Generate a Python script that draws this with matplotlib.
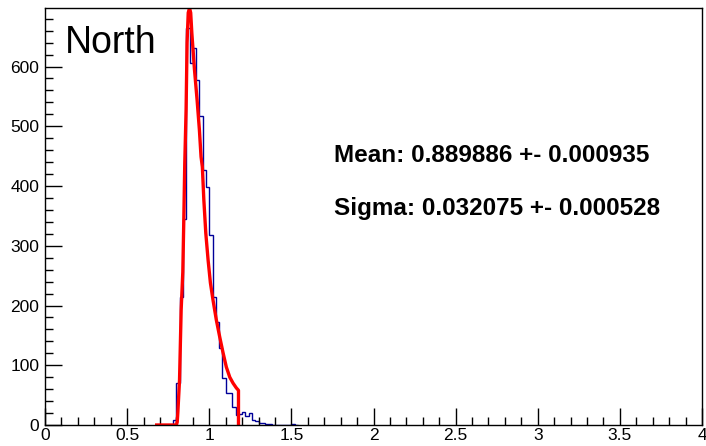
import numpy as np
import matplotlib
matplotlib.use("Agg")
import matplotlib.pyplot as plt
from matplotlib.ticker import MultipleLocator

# histogram: bins of width 0.02 starting at 0.76
bin_start = 0.76
bin_width = 0.02
counts = [0, 8, 70, 215, 345, 665, 606, 631, 578, 517, 427, 399, 318,
          214, 172, 129, 79, 54, 54, 30, 17, 18, 22, 15, 20, 8, 7, 4, 4,
          2, 2, 0, 0, 0, 0, 0, 0, 1, 0]

# fitted curve as drawn
fit_x = [0.68, 0.80, 0.805, 0.809, 0.819, 0.829, 0.839, 0.845, 0.851, 0.859,
         0.865, 0.872, 0.880, 0.887, 0.894, 0.910, 0.926, 0.940, 0.950,
         0.958, 0.967, 0.979, 0.993, 1.007, 1.023, 1.043, 1.064, 1.084,
         1.104, 1.125, 1.145, 1.165, 1.178, 1.178]
fit_y = [0, 0, 5, 22, 75, 193, 256, 343, 439, 528,
         640, 690, 698, 690, 656, 595, 544, 494, 449,
         432, 377, 321, 276, 238, 209, 176, 147, 121,
         97, 80, 70, 62, 58, 0]

mean_txt = "Mean: 0.889886 +- 0.000935"
sigma_txt = "Sigma: 0.032075 +- 0.000528"
label = "North"

plt.rcParams['font.family'] = ['Liberation Sans', 'DejaVu Sans']

fig = plt.figure(figsize=(7.06, 4.46), dpi=100)
ax = fig.add_axes([45 / 706, 1 - 425 / 446, 657 / 706, 417 / 446])

edges = bin_start + bin_width * np.arange(len(counts) + 1)
ax.stairs(counts, edges, color='#000099', lw=1)
ax.plot(fit_x, fit_y, color='red', lw=2.4)

ax.set_xlim(0, 4)
ax.set_ylim(0, 698)
ax.xaxis.set_major_locator(MultipleLocator(0.5))
ax.xaxis.set_minor_locator(MultipleLocator(0.1))
ax.yaxis.set_major_locator(MultipleLocator(100))
ax.yaxis.set_minor_locator(MultipleLocator(20))
ax.set_xticks([0, 0.5, 1, 1.5, 2, 2.5, 3, 3.5, 4])
ax.set_xticklabels(['0', '0.5', '1', '1.5', '2', '2.5', '3', '3.5', '4'])
ax.tick_params(which='both', direction='in', top=False, right=False,
               labelsize=12.5)
ax.tick_params(which='major', length=12, width=1)
ax.tick_params(which='minor', length=6, width=1)
ax.tick_params(axis='x', pad=2)
ax.tick_params(axis='y', pad=4)
for s in ax.spines.values():
    s.set_linewidth(1)

ax.text(65 / 706, 1 - 43 / 446, label, transform=fig.transFigure,
        fontsize=27, va='center', ha='left')
ax.text(334 / 706, 1 - 155 / 446, mean_txt, transform=fig.transFigure,
        fontsize=17.5, fontweight='bold', va='center', ha='left')
ax.text(334 / 706, 1 - 208 / 446, sigma_txt, transform=fig.transFigure,
        fontsize=17.5, fontweight='bold', va='center', ha='left')

fig.savefig("out.png", dpi=100)
